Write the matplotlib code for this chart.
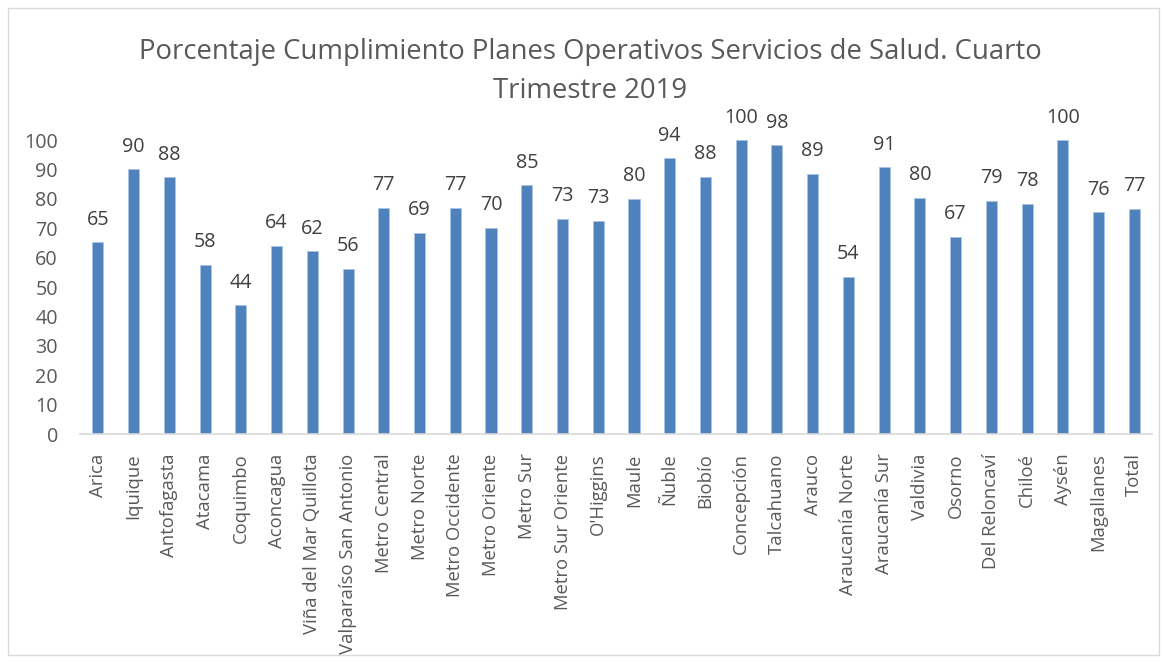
import matplotlib
matplotlib.use('Agg')
from matplotlib import pyplot as plt
from matplotlib.patches import Rectangle

servicios = ['Arica', 'Iquique', 'Antofagasta', 'Atacama', 'Coquimbo', 'Aconcagua',
             'Viña del Mar Quillota', 'Valparaíso San Antonio', 'Metro Central',
             'Metro Norte', 'Metro Occidente', 'Metro Oriente', 'Metro Sur',
             'Metro Sur Oriente', "O'Higgins", 'Maule', 'Ñuble', 'Biobío', 'Concepción',
             'Talcahuano', 'Arauco', 'Araucanía Norte', 'Araucanía Sur', 'Valdivia',
             'Osorno', 'Del Reloncaví', 'Chiloé', 'Aysén', 'Magallanes', 'Total']
cumplimiento = [65.2, 90.1, 87.4, 57.5, 43.8, 64.0, 62.2, 56.2, 76.9,
                68.5, 77.0, 70.2, 84.6, 73.2, 72.6, 80.0, 93.8, 87.5, 99.9,
                98.2, 88.5, 53.5, 90.8, 80.4, 67.1, 79.4, 78.3, 100.0, 75.5, 76.6]
etiquetas = [65, 90, 88, 58, 44, 64, 62, 56, 77, 69, 77, 70, 85, 73, 73, 80, 94, 88,
             100, 98, 89, 54, 91, 80, 67, 79, 78, 100, 76, 77]

plt.rcParams['font.family'] = ['Open Sans', 'DejaVu Sans']
gris = '#595959'

fig = plt.figure(figsize=(11.65, 6.62), dpi=100)
ax = fig.add_axes([0.0687, 0.3444, 0.9203, 0.4441])

x = range(len(servicios))
ax.bar(x, cumplimiento, width=0.31, color='#4f81bd', edgecolor='#a9c4e6', linewidth=0.6)
for xi, v, lab in zip(x, cumplimiento, etiquetas):
    ax.annotate(str(lab), (xi, v), xytext=(0, 9), textcoords='offset points',
                ha='center', va='bottom', fontsize=14.2, color='#404040')

ax.set_xlim(-0.5, len(servicios) - 0.5)
ax.set_ylim(0, 100)
ax.set_yticks(range(0, 101, 10))
ax.set_xticks(list(x))
ax.set_xticklabels(servicios, rotation=90, fontsize=13.3, color=gris)
ax.tick_params(axis='y', length=0, labelsize=14.2, labelcolor=gris, pad=16)
ax.tick_params(axis='x', length=0, pad=14)
for s in ['left', 'right', 'top']:
    ax.spines[s].set_visible(False)
ax.spines['bottom'].set_color('#d9d9d9')
ax.spines['bottom'].set_linewidth(1.2)

fig.text(0.5064, 1 - 59 / 662, 'Porcentaje Cumplimiento Planes Operativos Servicios de Salud. Cuarto',
         ha='center', va='baseline', fontsize=19.8, color=gris)
fig.text(0.5064, 1 - 98 / 662, 'Trimestre 2019',
         ha='center', va='baseline', fontsize=19.8, color=gris)

fig.patches.append(Rectangle((0.007, 0.011), 0.988, 0.977, transform=fig.transFigure,
                             fill=False, edgecolor='#d9d9d9', linewidth=1))

fig.savefig('out.png', dpi=100)
